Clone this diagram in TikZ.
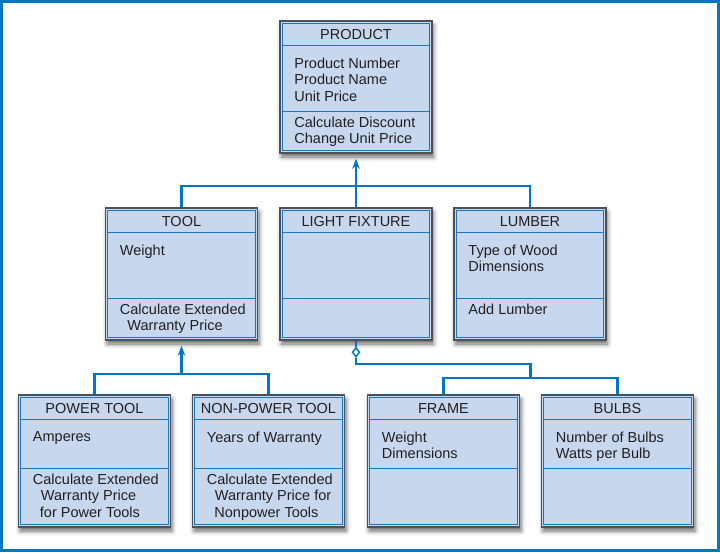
\documentclass[tikz,border=0pt]{standalone}
\usepackage{fontspec}
\setmainfont{Liberation Sans}
\usetikzlibrary{arrows.meta,positioning,calc,shapes.geometric,shadows.blur}
\definecolor{boxfill}{RGB}{198,215,238}
\definecolor{boxline}{RGB}{20,120,200}
\definecolor{linkblue}{RGB}{0,118,196}
\definecolor{frameblue}{RGB}{0,119,192}
\definecolor{edgegray}{RGB}{78,80,86}
\definecolor{inktext}{RGB}{35,31,32}
\newcommand{\classfont}{\fontsize{14.5}{16.3}\selectfont}
% name, centre, title, attributes, operations, height, operation row
\newcommand{\umlclass}[7]{%
  \node[classbox, minimum height=#6] (#1) at (#2) {};
  \draw[comp] ([shift={(3,3)}]#1.north west) rectangle ([shift={(-3,-3)}]#1.south east);
  \draw[comp] ([shift={(3,25)}]#1.north west) -- ([shift={(-3,25)}]#1.north east);
  \draw[comp] ([shift={(3,#7)}]#1.north west) -- ([shift={(-3,#7)}]#1.north east);
  \node[classtitle] (#1-title) at ([shift={(0,14)}]#1.north) {#3};
  \node[members] (#1-attr) at ([shift={(15,37.5)}]#1.north west) {#4};
  \node[members] (#1-ops) at ([shift={(15,#7+5.5)}]#1.north west) {#5};
}
\tikzset{
  classbox/.style={draw=edgegray, line width=1.5pt, fill=boxfill, minimum width=152, inner sep=0pt,
    blur shadow={shadow xshift=1.5pt, shadow yshift=-4pt, shadow blur radius=4.5pt, shadow opacity=60}},
  comp/.style={draw=boxline, line width=1.3pt},
  classtitle/.style={text=inktext, font=\classfont, inner sep=0pt, text height=10.4pt, text depth=0pt},
  members/.style={text=inktext, font=\classfont, inner sep=0pt, anchor=north west, align=left},
  link/.style={draw=linkblue, line width=2.1pt},
  genarrow/.style={-{Stealth[length=10pt,width=7.5pt]}, shorten >=5pt},
  aggdiamond/.style={diamond, draw=linkblue, line width=1.5pt, fill=white, inner sep=0pt,
    minimum width=7.5pt, minimum height=9.5pt}
}

\begin{document}
\begin{tikzpicture}[x=1pt, y=-1pt]
    \useasboundingbox (0,0) rectangle (720,552);
    \draw[frameblue, line width=3pt] (1.5,1.5) rectangle (718.5,550.5);
    % top class
    \umlclass{product}{356,87}{PRODUCT}{Product Number\\Product Name\\Unit Price}{Calculate Discount\\Change Unit Price}{132}{91}
    % second row
    \umlclass{tool}{181.5,274}{TOOL}{Weight}{Calculate Extended\\\hspace*{7.5pt}Warranty Price}{132}{91}
    \umlclass{lightfixture}{356,274}{LIGHT FIXTURE}{}{}{132}{91}
    \umlclass{lumber}{530,274}{LUMBER}{Type of Wood\\Dimensions}{Add Lumber}{132}{91}
    % third row
    \umlclass{powertool}{94.5,461}{POWER TOOL}{Amperes}{Calculate Extended\\\hspace*{8pt}Warranty Price\\\hspace*{7pt}for Power Tools}{132}{74}
    \umlclass{nonpowertool}{268.5,461}{NON-POWER TOOL}{Years of Warranty}{Calculate Extended\\\hspace*{8pt}Warranty Price for\\\hspace*{7.5pt}Nonpower Tools}{132}{74}
    \umlclass{frame}{443.5,461}{FRAME}{Weight\\Dimensions}{}{132}{74}
    \umlclass{bulbs}{617.5,461}{BULBS}{Number of Bulbs\\Watts per Bulb}{}{132}{74}
    % generalisation to product
    \coordinate (productbus) at ($(product.south)+(0,32.5)$);
    \draw[link] (tool.north) |- (productbus) -| (lumber.north);
    \draw[link, genarrow] (lightfixture.north) -- (product.south);
    % generalisation to tool
    \coordinate (toolbus) at ($(tool.south)+(0,33)$);
    \draw[link] (powertool.north) |- (toolbus) -| (nonpowertool.north);
    \draw[link, genarrow] (toolbus) -- (tool.south);
    % aggregation of fixture parts
    \node[aggdiamond] (agg) at ($(lightfixture.south)+(0,11.5)$) {};
    \coordinate (partsbus) at ($(frame.north)!.5!(bulbs.north)+(0,-16)$);
    \draw[link] (lightfixture.south) -- (agg.north);
    \draw[link] (agg.south) -- ++(0,6) -| (partsbus);
    \draw[link] (frame.north) |- (partsbus) -| (bulbs.north);
\end{tikzpicture}
\end{document}
